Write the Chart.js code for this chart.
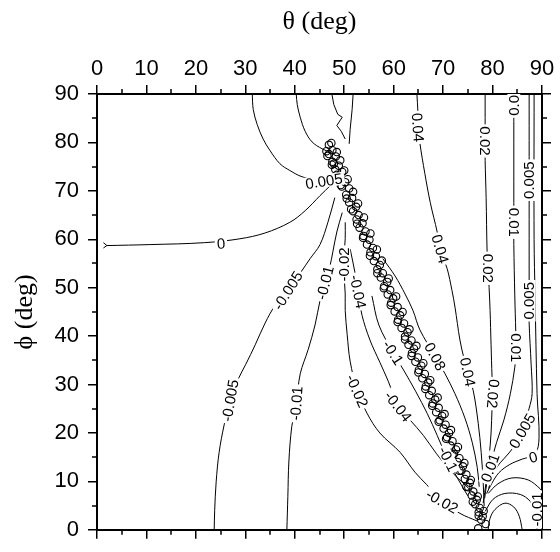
<!DOCTYPE html>
<html>
<head>
<meta charset="utf-8">
<script src="https://cdn.jsdelivr.net/npm/chart.js@4.4.1/dist/chart.umd.min.js"></script>
<style>
  html, body { margin: 0; padding: 0; background: #fff; }
</style>
</head>
<body>
<canvas id="chart" width="560" height="552"></canvas>
<script>
// axis range (degrees)
const axisMax = 90;
const majorStep = 10;
const minorStep = 5;

// contour lines, [theta, phi] pairs
const zeroLeft = [[2.0,58.7],[10.7,58.9],[21.8,59.3],[28.9,60.1],[34.0,61.3],[39.0,63.5],[42.1,65.9],[45.1,69.0],[47.3,71.2]];
const zeroTip = [[1.3,59.3],[2.0,58.7],[1.3,58.2]];
const pos005Top = [[31.4,90],[31.6,86.8],[32.4,83.7],[33.6,80.7],[35.0,78.3],[37.0,75.6],[39.0,74.2],[41.5,72.9],[45.5,72.0],[49.2,71.4]];
const topArc = [[40.3,90],[40.5,87.8],[41.1,85.2],[42.1,82.3],[43.5,80.1],[45.5,78.7],[47.7,77.7]];
const topWiggle = [[47.5,90],[47.9,87.8],[48.7,85.8],[49.6,85.2],[48.5,83.5],[49.4,82.3],[50.2,80.7]];
const topStraight = [[51.8,90],[51.6,86.8],[51.2,82.7],[51.0,79.7]];
const neg005 = [[48.1,68.6],[46.7,63.5],[45.1,58.9],[43.1,56.0],[41.1,53.0],[38.6,49.4],[36.0,46.3],[34.0,42.7],[32.0,38.2],[30.1,34.2],[28.5,31.0],[26.9,26.7],[25.7,21.6],[24.7,16.0],[24.1,9.9],[23.8,4.0],[23.7,0]];
const neg01 = [[49.6,65.5],[48.5,61.5],[47.7,57.4],[47.1,54.4],[46.1,51.0],[45.1,47.3],[44.1,42.3],[42.7,37.2],[41.1,32.2],[40.3,26.1],[39.4,21.4],[38.8,14.0],[38.6,6.9],[38.4,0]];
const neg02 = [[50.2,63.5],[50.2,60.1],[49.9,54.8],[50.2,48.7],[50.2,45.3],[50.6,40.3],[51.2,34.8],[52.6,28.9],[54.6,24.1],[57.2,20.0],[61.3,16.0],[64.3,11.9],[66.7,9.3],[69.8,5.9],[73.4,3.4],[76.9,1.8]];
const neg04 = [[51.2,58.0],[52.2,53.0],[52.8,49.2],[53.6,44.3],[55.2,39.2],[57.2,34.6],[58.9,30.7],[60.9,25.5],[63.3,22.7],[66.0,19.5],[68.6,15.8],[71.5,12.2],[74.5,9.2],[76.8,7.0]];
const neg1 = [[55.6,48.3],[57.0,42.3],[59.9,36.6],[62.0,33.0],[64.5,28.5],[66.8,24.0],[68.8,19.5],[70.9,14.6],[73.0,10.5],[75.0,7.0]];
const pos08 = [[57.8,56.0],[60.3,52.4],[62.3,48.7],[63.9,45.3],[65.3,41.3],[68.4,35.8],[70.4,32.2],[72.4,28.1],[74.4,23.1],[75.9,18.0],[76.9,12.9],[77.3,8.9]];
const pos04 = [[64.7,90],[64.9,86.4],[65.0,83.1],[65.3,79.9],[66.3,73.6],[67.4,67.6],[68.8,61.5],[69.4,58.0],[70.8,54.0],[71.8,49.4],[72.4,46.0],[73.4,39.2],[74.2,35.5],[75.0,32.6],[76.1,28.7],[77.1,22.0],[77.7,16.0],[78.1,9.9],[78.3,4.9]];
const pos02 = [[78.5,90],[78.5,80.3],[78.5,76.3],[78.7,68.6],[78.9,57.4],[79.1,54.0],[79.3,50.0],[79.5,45.3],[79.7,38.2],[79.9,31.6],[80.1,28.1],[79.9,25.1],[79.7,20.0],[79.3,15.0],[78.7,9.9],[78.1,5.5]];
const pos01 = [[84.3,90],[84.3,84.3],[84.3,67.6],[84.3,63.5],[84.3,58.9],[84.5,48.3],[84.7,40.9],[84.8,37.6],[84.5,33.6],[83.6,28.1],[82.3,22.7],[80.8,18.0],[79.6,13.5],[78.9,10.0],[78.4,6.5]];
const pos005 = [[87.4,90],[87.4,77.1],[87.4,72.2],[87.4,68.2],[87.4,52.0],[87.4,47.3],[87.4,42.7],[87.8,34.2],[88.0,28.1],[87.4,25.1],[86.0,20.4],[84.2,17.0],[82.4,14.8],[80.9,13.0],[79.9,10.8],[79.2,8.5]];
const zeroRight = [[88.4,90],[88.4,60],[88.6,48.3],[89.0,28.1],[89.4,19.0],[88.6,15.6],[86.0,14.6],[83.5,13.5],[81.3,11.8],[79.8,9.5],[78.8,7.5]];
const arcInner = [[79.1,0],[79.5,2.4],[80.5,4.2],[82.5,5.5],[84.3,4.7],[85.4,2.8],[86.0,0]];
const arcMiddle = [[78.5,3.8],[80.1,6.3],[82.5,7.5],[85.6,7.3],[87.6,5.9],[88.6,3.8],[89.0,0]];
const arcOuter = [[79.1,7.5],[81.1,9.5],[83.9,10.7],[87.2,10.3],[89.6,8.5],[90,7.9]];

// the band of small loops along the singular line
const loopPts = [
  [46.9,79.5],[47.6,78.4],[46.9,77.6],[48.3,77.1],[47.6,76.0],[48.9,75.2],[48.2,74.4],[49.6,73.9],
  [48.9,72.6],[50.2,71.8],[49.5,70.9],[51.0,70.5],[50.4,69.2],[51.6,68.5],[51.0,67.6],[52.4,66.7],
  [51.8,65.8],[52.9,65.0],[52.5,64.1],[53.7,63.3],[53.1,62.4],[54.3,61.6],[53.9,60.7],[55.1,59.9],
  [54.6,58.9],[55.8,58.2],[55.3,57.3],[56.4,56.5],[56.0,55.5],[57.2,54.7],[56.7,53.8],[57.8,53.0],
  [57.4,52.1],[58.7,51.2],[58.1,50.3],[59.3,49.5],[58.8,48.6],[59.9,47.8],[59.5,46.9],[60.8,46.0],
  [60.2,45.1],[61.3,44.3],[60.9,43.4],[62.1,42.6],[61.6,41.7],[62.8,40.8],[62.3,39.9],[63.6,39.1],
  [63.0,38.2],[64.1,37.4],[63.7,36.5],[64.9,35.6],[64.4,34.7],[65.6,33.9],[65.1,33.0],[66.3,32.2],
  [65.8,31.3],[67.0,30.4],[66.5,29.6],[67.7,28.7],[67.2,27.8],[68.4,26.9],[67.9,26.1],[69.1,25.2],
  [68.6,24.3],[69.8,23.5],[69.3,22.6],[70.5,21.7],[70.1,20.9],[71.2,20.0],[70.8,19.1],[71.9,18.3],
  [71.5,17.4],[72.6,16.6],[72.2,15.7],[73.3,14.8],[72.9,14.0],[74.0,13.1],[73.7,12.2],[74.7,11.4],
  [74.4,10.5],[75.4,9.7],[75.1,8.8],[76.1,7.9],[75.8,7.1],[76.8,6.2],[76.5,5.3],[77.4,4.5],
  [77.2,3.6],[78.0,2.8],[77.7,2.1],[77.1,0.3],[46.4,78.2],[47.9,75.6]
];
const loopPtsEdge = [
  [47.4,79.9],[46.6,77.2],[48.5,78.0],[47.5,75.4],[49.2,76.3],[48.5,73.3],[50.0,74.2],[49.3,71.2],
  [50.7,72.4],[50.5,68.4],[51.8,69.8],[51.4,66.2],[52.8,67.4],[52.6,63.2],[54.0,64.5],[53.8,60.3],
  [55.3,61.2],[55.2,56.6],[56.6,57.9],[56.7,53.0],[57.6,55.6],[58.0,49.9],[59.0,51.9],[59.4,46.4],
  [60.5,48.2],[60.8,42.9],[61.8,45.0],[62.3,39.3],[63.2,41.4],[63.6,35.9],[64.6,38.0],[65.0,32.5],
  [66.0,34.4],[66.4,29.1],[67.4,30.9],[67.8,25.6],[68.9,27.3],[69.1,22.3],[70.3,23.9],[70.6,18.8],
  [71.6,20.6],[71.9,15.5],[73.0,17.1],[73.3,12.2],[74.3,13.8],[74.7,8.9],[75.6,10.3],[76.0,5.8],
  [77.0,6.9],[77.2,2.9],[78.2,3.9],[78.6,1.2]
];

// contour labels: [theta, phi, text, rotation in degrees]
const contourLabels = [
  [25.1,59.1,'0',-4], [45.9,72.0,'0.005',-9],
  [38.6,49.4,'-0.005',-58], [26.9,26.7,'-0.005',-80],
  [46.1,51.0,'-0.01',-76], [40.3,26.1,'-0.01',-86],
  [49.9,54.8,'-0.02',-90], [52.6,28.7,'-0.02',66], [69.8,5.9,'-0.02',30],
  [52.8,49.2,'-0.04',78], [60.9,25.5,'-0.04',52],
  [59.9,36.6,'-0.1',57], [71.0,14.6,'-0.1',64],
  [68.4,35.8,'0.08',62],
  [64.9,83.1,'0.04',86], [69.4,58.0,'0.04',74], [75.0,32.6,'0.04',78],
  [78.5,80.3,'0.02',90], [79.1,54.0,'0.02',90], [80.1,28.1,'0.02',95],
  [84.3,88.5,'0.01',-90], [84.3,63.5,'0.01',90], [84.8,37.6,'0.01',90], [79.5,12.8,'0.01',-70],
  [87.4,72.2,'0.005',-90], [87.4,47.3,'0.005',-90], [86.0,20.4,'0.005',-60],
  [88.2,15.0,'0',-15], [89.0,4.2,'-0.01',-90]
];

const contours = [zeroLeft, pos005Top, topArc, neg005, neg01, neg02, neg04, neg1,
  pos08, pos04, pos02, pos01, pos005, zeroRight, arcInner, arcMiddle, arcOuter];
const sharpContours = [zeroTip, topWiggle, topStraight];

const sansFamily = "'Liberation Sans', Arial, sans-serif";
const serifFamily = "'Liberation Serif', 'Times New Roman', serif";

const datasets = [];
[loopPts, loopPtsEdge].forEach(pts => datasets.push({
  data: pts, showLine: false, pointStyle: 'circle', pointRadius: 3.7,
  borderColor: '#000', borderWidth: 1.1, backgroundColor: 'rgba(0,0,0,0)'
}));
contours.forEach(c => datasets.push({
  data: c, showLine: true, pointRadius: 0, borderColor: '#000', borderWidth: 1, tension: 0.35
}));
sharpContours.forEach(c => datasets.push({
  data: c, showLine: true, pointRadius: 0, borderColor: '#000', borderWidth: 1, tension: 0
}));

// minor tick marks on all four sides
const minorTicks = {
  id: 'minorTicks',
  afterDraw(chart) {
    const { ctx, chartArea: a, scales } = chart;
    ctx.save();
    ctx.strokeStyle = '#000';
    ctx.lineWidth = 1.5;
    ctx.beginPath();
    for (let v = minorStep; v < axisMax; v += majorStep) {
      const px = Math.round(scales.x.getPixelForValue(v));
      const py = Math.round(scales.y.getPixelForValue(v));
      ctx.moveTo(px, a.top); ctx.lineTo(px, a.top - 5);
      ctx.moveTo(px, a.bottom); ctx.lineTo(px, a.bottom + 5);
      ctx.moveTo(a.left, py); ctx.lineTo(a.left - 5, py);
      ctx.moveTo(a.right, py); ctx.lineTo(a.right + 5, py);
    }
    ctx.stroke();
    ctx.restore();
  }
};

// contour value labels, with a white box that breaks the line
const labelPlugin = {
  id: 'contourLabels',
  afterDatasetsDraw(chart) {
    const { ctx, chartArea: a, scales } = chart;
    ctx.save();
    ctx.beginPath();
    ctx.rect(a.left, a.top, a.right - a.left, a.bottom - a.top);
    ctx.clip();
    ctx.font = '15px ' + sansFamily;
    ctx.textAlign = 'center';
    ctx.textBaseline = 'middle';
    contourLabels.forEach(([t, p, txt, ang]) => {
      const x = scales.x.getPixelForValue(t);
      const y = scales.y.getPixelForValue(p);
      const w = ctx.measureText(txt).width;
      ctx.save();
      ctx.translate(x, y);
      ctx.rotate(ang * Math.PI / 180);
      ctx.fillStyle = '#fff';
      ctx.fillRect(-w / 2 - 2, -6.5, w + 4, 13);
      ctx.fillStyle = '#000';
      ctx.fillText(txt, 0, 1);
      ctx.restore();
    });
    ctx.restore();
  }
};

const tickFont = { family: sansFamily, size: 22 };
const titleFont = { family: serifFamily, size: 26 };
const gridOpts = { drawOnChartArea: false, drawTicks: true, tickLength: 9, color: '#000', lineWidth: 1.5 };
const borderOpts = { display: true, color: '#000', width: 2 };

new Chart(document.getElementById('chart'), {
  type: 'scatter',
  data: { datasets },
  options: {
    responsive: false,
    animation: false,
    layout: { padding: 0 },
    plugins: { legend: { display: false }, tooltip: { enabled: false } },
    scales: {
      x: {
        type: 'linear', position: 'top', min: 0, max: axisMax,
        ticks: { stepSize: majorStep, color: '#000', font: tickFont, padding: 3, maxRotation: 0, autoSkip: false },
        grid: gridOpts, border: borderOpts,
        title: { display: true, text: 'θ (deg)', color: '#000', font: titleFont, padding: { top: 7, bottom: 0 } },
        afterFit: s => { s.height = 94; }
      },
      x2: {
        type: 'linear', position: 'bottom', min: 0, max: axisMax,
        ticks: { stepSize: majorStep, display: false },
        grid: gridOpts, border: borderOpts,
        afterFit: s => { s.height = 13; }
      },
      y: {
        type: 'linear', position: 'left', min: 0, max: axisMax,
        ticks: { stepSize: majorStep, color: '#000', font: tickFont, padding: 9, autoSkip: false },
        grid: gridOpts, border: borderOpts,
        title: { display: true, text: 'ϕ (deg)', color: '#000', font: titleFont, padding: { top: 10, bottom: 0 } },
        afterFit: s => { s.width = 97; }
      },
      y2: {
        type: 'linear', position: 'right', min: 0, max: axisMax,
        ticks: { stepSize: majorStep, display: false },
        grid: gridOpts, border: borderOpts,
        afterFit: s => { s.width = 18; }
      }
    }
  },
  plugins: [minorTicks, labelPlugin]
});
</script>
</body>
</html>
